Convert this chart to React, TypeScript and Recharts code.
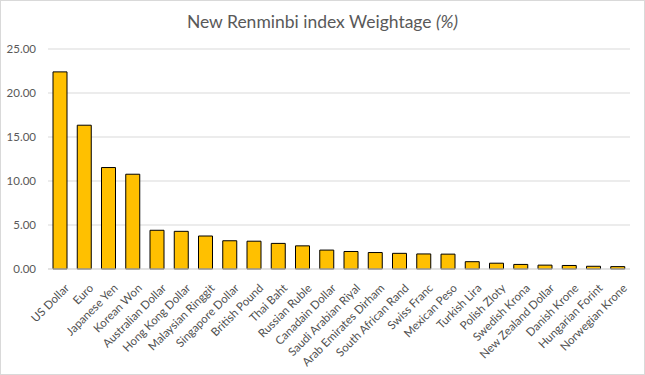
import React from "react";
import { BarChart, Bar, XAxis, YAxis, CartesianGrid } from "recharts";

const currencies = [
  "US Dollar", "Euro", "Japanese Yen", "Korean Won", "Australian Dollar", "Hong Kong Dollar",
  "Malaysian Ringgit", "Singapore Dollar", "British Pound", "Thai Baht", "Russian Ruble",
  "Canadain Dollar", "Saudi Arabian Riyal", "Arab Emirates Dirham", "South African Rand",
  "Swiss Franc", "Mexican Peso", "Turkish Lira", "Polish Zloty", "Swedish Krona",
  "New Zealand Dollar", "Danish Krone", "Hungarian Forint", "Norwegian Krone",
];
const weights = [
  22.4, 16.34, 11.53, 10.77, 4.4, 4.28, 3.75, 3.21, 3.16, 2.91, 2.63, 2.15, 1.99, 1.87, 1.78,
  1.71, 1.69, 0.83, 0.66, 0.52, 0.44, 0.4, 0.31, 0.27,
];
const yTicks = [0, 5, 10, 15, 20, 25];

const data = currencies.map((name, i) => ({ name, value: weights[i] }));

const FONT = "Lato, 'Open Sans', sans-serif";
const TEXT = "#595959";

const XTick = (props: any) => {
  const { x, y, payload } = props;
  return (
    <g transform={`translate(${x + 7},${y + 9})`}>
      <text
        x={0}
        y={0}
        dy={4}
        textAnchor="end"
        transform="rotate(-45)"
        fill="#505050"
        fontSize={11.5}
        fontFamily={FONT}
      >
        {payload.value}
      </text>
    </g>
  );
};

export default function App() {
  return (
    <div style={{ position: "absolute", left: 0, top: 0, width: 645, height: 375, background: "#fff" }}>
      <div
        style={{
          position: "absolute",
          left: 0,
          top: 10,
          width: 645,
          textAlign: "center",
          fontFamily: FONT,
          fontSize: 17.5,
          color: TEXT,
          lineHeight: "24px",
        }}
      >
        New Renminbi index Weightage <i>(%)</i>
      </div>
      <BarChart
        width={645}
        height={375}
        data={data}
        margin={{ top: 49, right: 15, bottom: 0, left: 0 }}
      >
        <CartesianGrid vertical={false} stroke="#d9d9d9" />
        <XAxis
          dataKey="name"
          interval={0}
          tickLine={false}
          axisLine={{ stroke: "#d9d9d9" }}
          height={106}
          tick={<XTick />}
        />
        <YAxis
          domain={[0, 25]}
          ticks={yTicks}
          width={48}
          axisLine={false}
          tickLine={false}
          tickMargin={6}
          tickFormatter={(v: number) => v.toFixed(2)}
          tick={{ fill: TEXT, fontSize: 11.5, fontFamily: FONT }}
        />
        <Bar dataKey="value" fill="#FFC000" stroke="#000" strokeWidth={1} barSize={14} isAnimationActive={false} />
      </BarChart>
      <div
        style={{
          position: "absolute",
          left: 0,
          top: 0,
          width: 645,
          height: 375,
          boxSizing: "border-box",
          border: "1px solid #d9d9d9",
          pointerEvents: "none",
        }}
      />
    </div>
  );
}
